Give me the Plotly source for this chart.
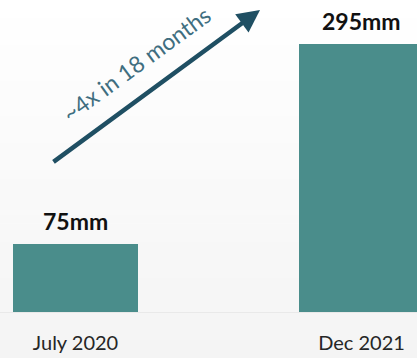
import plotly.graph_objects as go

# Data
periods = ["July 2020", "Dec 2021"]
sizes_mm = [75, 295]
growth_note = "~4x in 18 months"

BAR_COLOR = "#4a8d8b"
ARROW_COLOR = "#1f4f63"
NOTE_COLOR = "#3f6e80"
LABEL_COLOR = "#262626"
FONT = "Lato, 'Open Sans', sans-serif"

W, H = 417, 358
M_BOTTOM = 46

fig = go.Figure(
    go.Bar(
        x=periods,
        y=sizes_mm,
        width=0.437,
        marker=dict(color=BAR_COLOR, line=dict(width=0)),
        hoverinfo="skip",
    )
)

# Value labels above each bar
for p, v in zip(periods, sizes_mm):
    fig.add_annotation(
        x=p, y=v, xref="x", yref="y",
        text=f"<b>{v}mm</b>",
        showarrow=False, yanchor="bottom", yshift=7,
        font=dict(family=FONT, size=23, color="#111111"),
    )

# Soft vertical background gradient (white at top, light grey at bottom)
n_bands = 40
plot_h = H - M_BOTTOM
y_bottom = -M_BOTTOM / plot_h
for i in range(n_bands):
    t0 = i / n_bands
    t1 = (i + 1) / n_bands
    g = round(255 - 11 * (1 - (t0 + t1) / 2))
    fig.add_shape(
        type="rect", xref="paper", yref="paper",
        x0=0, x1=1,
        y0=y_bottom + (1 - y_bottom) * t0,
        y1=y_bottom + (1 - y_bottom) * t1 + 0.002,
        fillcolor=f"rgb({g},{g},{g})", line=dict(width=0), layer="below",
    )

# Growth arrow
fig.add_annotation(
    x=260 / W, y=1 - 10 / plot_h, xref="paper", yref="paper",
    ax=-208, ay=153, axref="pixel", ayref="pixel",
    text="", showarrow=True,
    arrowhead=2, arrowsize=1.0, arrowwidth=4.5, arrowcolor=ARROW_COLOR,
)
fig.add_annotation(
    x=136 / W, y=1 - 64 / plot_h, xref="paper", yref="paper",
    xanchor="center", yanchor="middle",
    text=growth_note, showarrow=False, textangle=-36,
    font=dict(family=FONT, size=23, color=NOTE_COLOR),
)

fig.update_layout(
    width=W, height=H,
    margin=dict(l=0, r=0, t=0, b=M_BOTTOM),
    paper_bgcolor="rgba(0,0,0,0)",
    plot_bgcolor="rgba(0,0,0,0)",
    showlegend=False,
    bargap=0,
    xaxis=dict(
        range=[-0.264, 1.194],
        showgrid=False, zeroline=False,
        showline=True, linecolor="#e9e9e9", linewidth=1,
        ticks="", ticklabelstandoff=13,
        tickfont=dict(family=FONT, size=20, color=LABEL_COLOR),
        fixedrange=True,
    ),
    yaxis=dict(
        range=[0, 344],
        visible=False, showgrid=False, zeroline=False,
        fixedrange=True,
    ),
)

fig.write_html("out.html", config={"displayModeBar": False})
